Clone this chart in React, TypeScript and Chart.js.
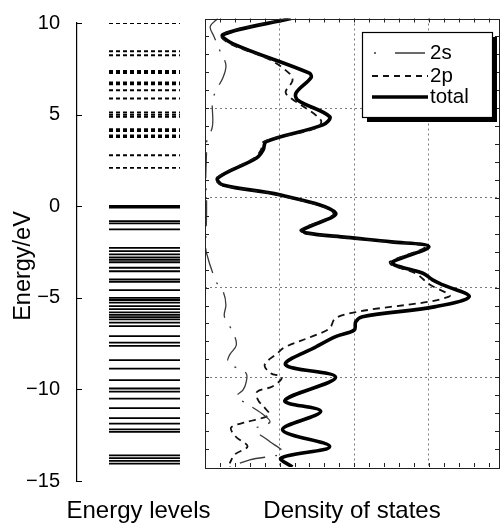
import React, { useEffect, useRef } from "react";
import { Chart, registerables } from "chart.js";

Chart.register(...registerables);

const FONT = "'Liberation Sans', Arial, Helvetica, sans-serif";

// ---------------- data ----------------
const ENERGY_TICKS = [-15, -10, -5, 0, 5, 10];

// energy levels (eV)
const UNOCCUPIED_LEVELS = [10.0, 8.46, 8.24, 7.38, 7.27, 6.76, 6.66, 6.33, 5.88, 5.12, 5.0, 4.88, 4.2, 4.1, 3.86, 3.77, 2.78, 2.09];
const OCCUPIED_LEVELS = [
  0.02, -0.08, -0.82, -0.94, -1.27, -2.27, -2.45, -2.63, -2.8, -2.93, -3.06, -3.36, -3.55, -4.0, -4.13, -4.58,
  -5.0, -5.12, -5.26, -5.45, -5.62, -5.8, -5.93, -6.06, -6.18, -6.36, -6.55, -7.09, -7.45, -7.62, -8.4, -8.87,
  -9.49, -9.95, -10.12, -10.5, -11.02, -11.57, -11.87, -12.18, -12.32, -13.6, -13.75, -13.9, -14.05,
];

const DOS_LABELS = ["2s", "2p", "total"];

// density of states: energy (eV) and DOS value
const S_ENERGY = [10.0, 9.55, 9.0, 8.2, 7.4, 6.7, 6.0, 5.4, 4.0, 3.1, 2.5, 1.0, 0.0, -1.1, -2.5, -3.07, -4.67, -5.3, -5.97, -6.62, -7.45, -8.2, -8.75, -9.2, -9.77, -10.3, -10.7, -11.08, -11.45, -12.05, -12.5, -12.9, -13.5, -14.2, -14.6, -15.0];
const S_DOS = [0.17, 0.07, 0.12, 0.2, 0.28, 0.24, 0.15, 0.1, 0.1, 0.02, 0.02, 0.01, 0.02, 0.02, 0.01, 0.02, 0.15, 0.25, 0.28, 0.26, 0.37, 0.42, 0.33, 0.31, 0.55, 0.55, 0.51, 0.42, 0.55, 0.77, 0.87, 0.67, 0.84, 1.04, 0.6, 0.33];

const P_ENERGY = [10.0, 9.1, 8.6, 7.7, 6.86, 6.5, 5.9, 5.57, 4.35, 3.9, 3.14, 2.68, 2.22, 1.1, 0.72, 0.17, -0.84, -1.78, -1.95, -2.2, -2.45, -2.72, -3.55, -3.74, -4.2, -4.8, -5.5, -6.33, -6.7, -7.27, -7.65, -8.3, -8.66, -9.3, -9.77, -10.0, -10.5, -10.8, -11.26, -11.7, -12.1, -12.5, -12.8, -13.3, -13.85, -14.3, -14.8];
const P_DOS = [1.12, 0.22, 0.33, 0.87, 1.15, 1.17, 1.08, 1.15, 1.55, 1.5, 0.79, 0.75, 0.66, 0.15, 0.22, 0.97, 1.72, 1.28, 1.32, 1.86, 2.45, 2.95, 2.48, 2.5, 2.82, 3.0, 3.27, 2.07, 1.75, 1.67, 1.48, 1.08, 0.97, 0.8, 0.88, 1.03, 0.91, 0.7, 0.71, 0.8, 0.86, 0.55, 0.35, 0.41, 0.57, 0.4, 0.33];

const T_ENERGY = [10.0, 9.1, 8.6, 6.95, 6.7, 5.85, 5.46, 4.53, 4.07, 3.14, 2.68, 2.22, 1.1, 0.72, 0.17, -0.84, -1.78, -1.95, -2.2, -2.45, -2.72, -3.55, -3.74, -4.2, -4.57, -4.85, -5.5, -6.06, -6.62, -6.9, -7.36, -7.73, -8.3, -9.3, -10.0, -11.3, -11.9, -12.93, -13.86, -14.5, -15.0];
const T_DOS = [1.15, 0.24, 0.37, 1.4, 1.42, 1.22, 1.24, 1.67, 1.58, 0.82, 0.78, 0.69, 0.17, 0.24, 1.0, 1.75, 1.31, 1.35, 1.9, 2.5, 3.0, 2.52, 2.54, 2.92, 3.05, 3.19, 3.54, 3.09, 2.11, 2.02, 2.0, 1.75, 1.49, 1.08, 1.75, 1.07, 1.55, 1.04, 1.67, 1.02, 1.17];

// ---------------- helpers ----------------
function levelPoints(levels: number[]) {
  const pts: { x: number; y: number | null }[] = [];
  levels.forEach((e) => {
    pts.push({ x: 0, y: e }, { x: 1, y: e }, { x: 1, y: null });
  });
  return pts;
}
function curve(energy: number[], dos: number[]) {
  return energy.map((e, i) => ({ x: dos[i], y: e }));
}
const minusify = (v: any) => String(v).replace("-", "\u2212");

const LEGEND_SAMPLES: { start: number; dash: number[] }[] = [
  { start: 12, dash: [2, 19, 30, 200] },
  { start: 10, dash: [6, 5] },
  { start: 10, dash: [] },
];

const leftDecor = {
  id: "leftDecor",
  afterDraw(chart: any) {
    const { ctx, chartArea: a, scales } = chart;
    const y = scales.y;
    ctx.save();
    ctx.strokeStyle = "#000";
    ctx.lineWidth = 1.2;
    ctx.beginPath();
    ENERGY_TICKS.forEach((v) => {
      const py = Math.round(y.getPixelForValue(v)) + 0.5;
      ctx.moveTo(a.left, py);
      ctx.lineTo(a.left + 5, py);
    });
    ctx.stroke();
    ctx.fillStyle = "#000";
    ctx.textAlign = "center";
    ctx.textBaseline = "middle";
    ctx.font = `24px ${FONT}`;
    ctx.fillText("Energy levels", (a.left + a.right) / 2, 511);
    ctx.translate(24, (a.top + a.bottom) / 2 + 14);
    ctx.rotate(-Math.PI / 2);
    ctx.font = `23.5px ${FONT}`;
    ctx.fillText("Energy/eV", 0, 0);
    ctx.restore();
  },
};

const dosDecor = {
  id: "dosDecor",
  afterDatasetsDraw(chart: any) {
    const { ctx, chartArea: a, scales } = chart;
    const x = scales.x;
    const y = scales.y;
    ctx.save();
    ctx.strokeStyle = "#222";
    ctx.lineWidth = 1;
    ctx.strokeRect(Math.round(a.left) + 0.5, Math.round(a.top) + 0.5, Math.round(a.right - a.left), Math.round(a.bottom - a.top));
    ctx.beginPath();
    for (let v = 0.2; v < x.max - 0.05; v += 0.2) {
      const px = Math.round(x.getPixelForValue(v)) + 0.5;
      ctx.moveTo(px, a.top);
      ctx.lineTo(px, a.top + 4);
      ctx.moveTo(px, a.bottom);
      ctx.lineTo(px, a.bottom - 4);
    }
    for (let e = y.min + 1; e < y.max - 0.01; e += 1) {
      const py = Math.round(y.getPixelForValue(e)) + 0.5;
      ctx.moveTo(a.left, py);
      ctx.lineTo(a.left + 4, py);
      ctx.moveTo(a.right, py);
      ctx.lineTo(a.right - 4, py);
    }
    ctx.stroke();

    // legend box with shadow
    const boxW = 130;
    const boxH = 85;
    const bx = Math.round(a.right - 7 - boxW);
    const by = Math.round(a.top + 13.5);
    ctx.fillStyle = "#000";
    ctx.fillRect(bx + 5, by + 5, boxW, boxH);
    ctx.fillStyle = "#fff";
    ctx.fillRect(bx, by, boxW, boxH);
    ctx.strokeStyle = "#000";
    ctx.lineWidth = 1.2;
    ctx.strokeRect(bx + 0.5, by + 0.5, boxW, boxH);
    const rows = [21, 44, 65];
    chart.data.datasets.forEach((ds: any, i: number) => {
      const ry = by + rows[i];
      const s = LEGEND_SAMPLES[i];
      ctx.strokeStyle = ds.borderColor;
      ctx.lineWidth = i === 0 ? 1.6 : ds.borderWidth;
      ctx.setLineDash(s.dash);
      ctx.beginPath();
      ctx.moveTo(bx + s.start, ry);
      ctx.lineTo(bx + 66, ry);
      ctx.stroke();
      ctx.setLineDash([]);
      ctx.fillStyle = "#000";
      ctx.font = `20.5px ${FONT}`;
      ctx.textAlign = "left";
      ctx.textBaseline = "middle";
      ctx.fillText(ds.label, bx + 68, ry);
    });
    ctx.restore();
  },
};

const innerGrid = (min: number, max: number) => (c: any) =>
  c.tick && c.tick.value > min + 1e-6 && c.tick.value < max - 1e-6 ? "#7a7a7a" : "rgba(0,0,0,0)";

export default function App() {
  const leftRef = useRef<HTMLCanvasElement>(null);
  const rightRef = useRef<HTMLCanvasElement>(null);

  useEffect(() => {
    const left = new Chart(leftRef.current as HTMLCanvasElement, {
      type: "line",
      data: {
        datasets: [
          { label: "unoccupied", data: levelPoints(UNOCCUPIED_LEVELS) as any, borderColor: "#000", borderWidth: 1.9, borderDash: [4, 3], pointRadius: 0, tension: 0 },
          { label: "occupied", data: levelPoints(OCCUPIED_LEVELS) as any, borderColor: "#000", borderWidth: 1.8, pointRadius: 0, tension: 0 },
        ],
      },
      options: {
        responsive: false,
        animation: false,
        events: [],
        layout: { padding: { left: 0, right: 15, top: 23, bottom: 0 } },
        plugins: { legend: { display: false }, tooltip: { enabled: false } },
        scales: {
          x: {
            type: "linear",
            min: -0.451,
            max: 1.282,
            grid: { display: false },
            border: { display: false },
            ticks: { display: false },
            afterFit: (s: any) => { s.height = 42; },
          },
          y: {
            type: "linear",
            min: -15,
            max: 10,
            grid: { display: false },
            border: { display: true, color: "#000", width: 1.2 },
            afterBuildTicks: (s: any) => { s.ticks = ENERGY_TICKS.map((v) => ({ value: v })); },
            ticks: { color: "#000", font: { family: FONT, size: 20 }, padding: 9, callback: minusify },
            afterFit: (s: any) => { s.width = 77; },
          },
        },
      } as any,
      plugins: [leftDecor],
    });

    const right = new Chart(rightRef.current as HTMLCanvasElement, {
      type: "line",
      data: {
        datasets: [
          { label: DOS_LABELS[0], data: curve(S_ENERGY, S_DOS), borderColor: "#3a3a3a", borderWidth: 1.3, borderDash: [26, 10, 2, 10], pointRadius: 0, tension: 0.35 },
          { label: DOS_LABELS[1], data: curve(P_ENERGY, P_DOS), borderColor: "#111", borderWidth: 1.8, borderDash: [7, 5], pointRadius: 0, tension: 0.35 },
          { label: DOS_LABELS[2], data: curve(T_ENERGY, T_DOS), borderColor: "#000", borderWidth: 3.6, pointRadius: 0, tension: 0.35 },
        ],
      },
      options: {
        responsive: false,
        animation: false,
        events: [],
        layout: { padding: { left: 5, right: 4, top: 18.5, bottom: 0 } },
        plugins: { legend: { display: false }, tooltip: { enabled: false } },
        scales: {
          x: {
            type: "linear",
            min: 0,
            max: 3.94,
            ticks: { display: false, stepSize: 1 },
            grid: { color: innerGrid(0, 3.94), lineWidth: 1, drawTicks: false },
            border: { display: false, dash: [2, 3] },
            title: { display: true, text: "Density of states", color: "#000", font: { family: FONT, size: 24, lineHeight: 1 }, padding: { top: 0, bottom: 0 } },
            afterFit: (s: any) => { s.height = 56; },
          },
          y: {
            type: "linear",
            min: -15,
            max: 10,
            ticks: { display: false, stepSize: 5 },
            grid: { color: innerGrid(-15, 10), lineWidth: 1, drawTicks: false },
            border: { display: false, dash: [2, 3] },
            afterFit: (s: any) => { s.width = 0; },
          },
        },
      } as any,
      plugins: [dosDecor],
    });

    return () => {
      left.destroy();
      right.destroy();
    };
  }, []);

  return (
    <div style={{ position: "absolute", left: 0, top: 0, width: 503, height: 523, background: "#fff" }}>
      <canvas ref={leftRef} width={215} height={523} style={{ position: "absolute", left: 0, top: 0 }} />
      <canvas ref={rightRef} width={303} height={523} style={{ position: "absolute", left: 200, top: 0 }} />
    </div>
  );
}
